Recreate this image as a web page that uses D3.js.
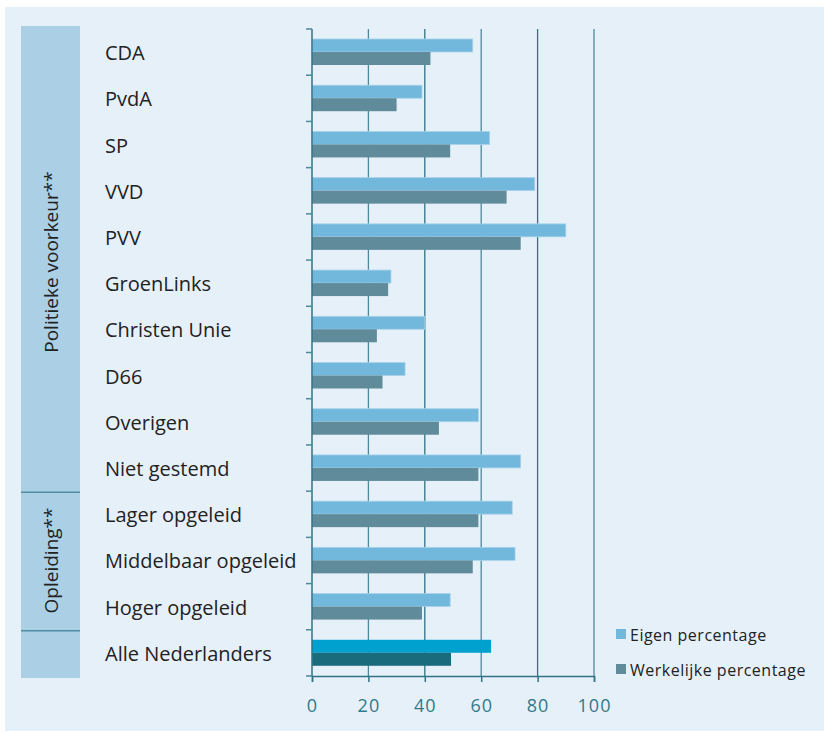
<!DOCTYPE html>
<html>
<head>
<meta charset="utf-8">
<script src="https://cdn.jsdelivr.net/npm/d3@7"></script>
<style>
  body { margin: 0; background: #ffffff; }
  text { font-family: "Open Sans", "Noto Sans", sans-serif; }
</style>
</head>
<body>
<svg id="chart" width="829" height="735"></svg>
<script>
// ---- data ----
var categories = ["CDA", "PvdA", "SP", "VVD", "PVV", "GroenLinks", "Christen Unie", "D66",
                  "Overigen", "Niet gestemd", "Lager opgeleid", "Middelbaar opgeleid",
                  "Hoger opgeleid", "Alle Nederlanders"];
var eigen      = [57, 39, 63, 79, 90, 28, 40, 33, 59, 74, 71, 72, 49, 63.5];
var werkelijk  = [42, 30, 49, 69, 74, 27, 23, 25, 45, 59, 59, 57, 39, 49.3];
var xTicks     = [0, 20, 40, 60, 80, 100];
var groups     = [
  { label: "Politieke voorkeur**", from: 0, to: 10 },
  { label: "Opleiding**", from: 10, to: 13 },
  { label: "", from: 13, to: 14 }
];
var seriesNames = ["Eigen percentage", "Werkelijke percentage"];

var svg = d3.select("#chart");

// background panel
svg.append("rect").attr("x", 5).attr("y", 7).attr("width", 819).attr("height", 724)
   .attr("fill", "#e6f0f9");

var xScale = d3.scaleLinear().domain([0, 100]).range([312, 594]);
var yScale = d3.scaleBand().domain(categories).range([29, 676]);

// ---- side panel with groups ----
var sideX = 21, sideW = 59;
svg.append("rect").attr("x", sideX).attr("y", 26).attr("width", sideW).attr("height", 652)
   .attr("fill", "#abd0e6");

groups.forEach(function(g, i) {
  var y0 = yScale(categories[g.from]);
  var y1 = g.to < categories.length ? yScale(categories[g.to]) : 676;
  if (i > 0) {
    svg.append("line").attr("x1", sideX).attr("x2", sideX + sideW)
       .attr("y1", y0 + 1).attr("y2", y0 + 1)
       .attr("stroke", "#4f8ea3").attr("stroke-width", 1.5);
  }
  if (g.label) {
    var cy = (y0 + y1) / 2 + (i == 0 ? 2 : 0);
    svg.append("text")
       .attr("transform", "translate(" + (sideX + sideW / 2 + 7) + "," + cy + ") rotate(-90)")
       .attr("text-anchor", "middle")
       .style("font-size", "19px")
       .attr("fill", "#222")
       .text(g.label);
  }
});

// ---- gridlines ----
svg.append("g").selectAll("line.grid")
   .data(xTicks.slice(1))
   .enter().append("line")
   .attr("x1", function(d) { return xScale(d); })
   .attr("x2", function(d) { return xScale(d); })
   .attr("y1", 29).attr("y2", 676)
   .attr("stroke", function(d, i) { return (i % 2 == 0) ? "#4a8a9a" : "#2f7484"; })
   .attr("stroke-width", 1.3);

// ---- bars ----
var barH = 13, padTop = 10;
var bars = svg.append("g");
bars.selectAll("rect.eigen")
   .data(eigen)
   .enter().append("rect")
   .attr("x", xScale(0))
   .attr("y", function(d, i) { return yScale(categories[i]) + padTop; })
   .attr("width", function(d) { return xScale(d) - xScale(0); })
   .attr("height", barH)
   .attr("fill", function(d, i) { return i == categories.length - 1 ? "#00a1cf" : "#72b8dc"; })
   .attr("stroke", function(d, i) { return i == categories.length - 1 ? "none" : "#a8d3ea"; })
   .attr("stroke-width", 0.8);

bars.selectAll("rect.werk")
   .data(werkelijk)
   .enter().append("rect")
   .attr("x", xScale(0))
   .attr("y", function(d, i) { return yScale(categories[i]) + padTop + barH; })
   .attr("width", function(d) { return xScale(d) - xScale(0); })
   .attr("height", barH)
   .attr("fill", function(d, i) { return i == categories.length - 1 ? "#1a6b7c" : "#5f8b9a"; });

// ---- category labels ----
svg.append("g").selectAll("text.cat")
   .data(categories)
   .enter().append("text")
   .attr("x", 105)
   .attr("y", function(d) { return yScale(d) + yScale.bandwidth() / 2 + 8; })
   .style("font-size", "20px")
   .attr("fill", "#222")
   .text(function(d) { return d; });

// ---- left axis ----
var yAxis = svg.append("g").attr("transform", "translate(" + xScale(0) + ",0)");
yAxis.append("line").attr("x1", 0).attr("x2", 0).attr("y1", 29).attr("y2", 676)
     .attr("stroke", "#2f7484").attr("stroke-width", 1.5);
var bounds = categories.map(function(c) { return yScale(c); }).concat([676]);
yAxis.selectAll("line.tick")
     .data(bounds)
     .enter().append("line")
     .attr("x1", -6).attr("x2", 0)
     .attr("y1", function(d) { return d; }).attr("y2", function(d) { return d; })
     .attr("stroke", "#4a8a9a").attr("stroke-width", 1.5);

// ---- bottom axis ----
var xAxis = d3.axisBottom(xScale).tickValues(xTicks).tickSize(6).tickPadding(17);
var xg = svg.append("g").attr("transform", "translate(0,676)").call(xAxis);
xg.select(".domain").attr("stroke", "#2f7484").attr("stroke-width", 1.5);
xg.selectAll(".tick line").attr("stroke", "#2f7484").attr("stroke-width", 1.5);
xg.selectAll(".tick text")
  .style("font-size", "18px")
  .style("letter-spacing", "1px")
  .style("font-family", "\"Open Sans\", sans-serif")
  .attr("fill", "#2f7a8c");

// ---- legend ----
var legendColors = ["#72b8dc", "#5f8b9a"];
var legend = svg.append("g");
seriesNames.forEach(function(name, i) {
  var ly = 641 + i * 35;
  legend.append("rect").attr("x", 616).attr("y", ly - 12).attr("width", 10).attr("height", 10)
        .attr("fill", legendColors[i]);
  legend.append("text").attr("x", 630).attr("y", ly)
        .style("font-size", "16px").style("letter-spacing", "0.5px")
        .attr("fill", "#222").text(name);
});
</script>
</body>
</html>
